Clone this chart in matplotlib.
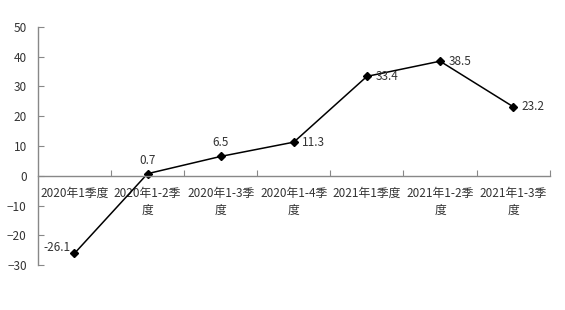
import numpy as np
import matplotlib
matplotlib.use("Agg")
import matplotlib.pyplot as plt

plt.rcParams['font.family'] = ['Noto Sans CJK SC', 'DejaVu Sans']

categories = ["2020年1季度", "2020年1-2季\n度", "2020年1-3季\n度", "2020年1-4季\n度",
              "2021年1季度", "2021年1-2季\n度", "2021年1-3季\n度"]
values = [-26.1, 0.7, 6.5, 11.3, 33.4, 38.5, 23.2]
label_pos = ["left", "above", "above", "right", "right", "right", "right"]

fig = plt.figure(figsize=(5.65, 3.1), dpi=100)
ax = fig.add_axes([0.067, 0.145, 0.906, 0.768])

x = np.arange(len(values))
ax.plot(x, values, color="black", lw=1.1, marker="D", ms=4, mfc="black", mec="black")

for xi, v, pos in zip(x, values, label_pos):
    if pos == "left":
        ax.annotate(f"{v}", (xi, v), xytext=(-3, 4), textcoords="offset points",
                    ha="right", va="center", fontsize=8.5, color="#333333")
    elif pos == "above":
        ax.annotate(f"{v}", (xi, v), xytext=(0, 5), textcoords="offset points",
                    ha="center", va="bottom", fontsize=8.5, color="#333333")
    else:
        ax.annotate(f"{v}", (xi, v), xytext=(6, 0), textcoords="offset points",
                    ha="left", va="center", fontsize=8.5, color="#333333")

ax.set_xlim(-0.5, len(values) - 0.5)
ax.set_ylim(-30, 50)
ax.set_yticks(np.arange(-30, 51, 10))

ax.spines['bottom'].set_position(('data', 0))
ax.spines['top'].set_visible(False)
ax.spines['right'].set_visible(False)
for s in ("left", "bottom"):
    ax.spines[s].set_color("#888888")
    ax.spines[s].set_linewidth(1.0)

ax.set_xticks(np.arange(0.5, len(values), 1.0))
ax.set_xticklabels([])
ax.set_xticks(x, minor=True)
ax.set_xticklabels(categories, minor=True, fontsize=8.5, color="#333333", linespacing=1.45)
ax.tick_params(axis="x", which="major", direction="in", length=4, color="#888888")
ax.tick_params(axis="x", which="minor", length=0, pad=8)
ax.tick_params(axis="y", direction="in", length=4, color="#888888", labelsize=8.5,
               labelcolor="#333333", pad=8)

fig.savefig("out.png", dpi=100)
